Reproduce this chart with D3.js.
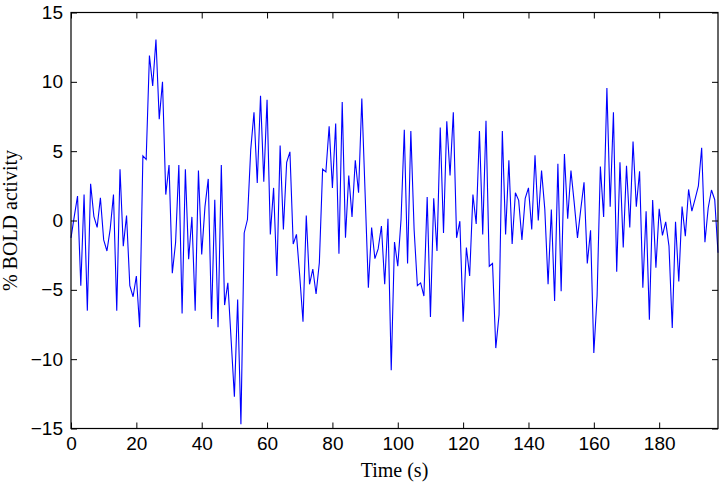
<html>
<head>
  <meta charset="utf-8">
  <script src="https://d3js.org/d3.v7.min.js"></script>
  <style>
    body { margin: 0; background: white; }
  </style>
</head>
<body>
<script>

// % BOLD signal, one sample per second (t = 0 .. 198 s)
let bold = [
  -1.25, 0.3, 1.76, -4.7, 1.87, -6.5, 2.65, 0.3, -0.5, 1.64,
  -1.4, -2.2, -0.6, 1.87, -6.5, 3.7, -1.85, 0.36, -4.7, -5.5,
  -4.0, -7.7, 4.66, 4.4, 11.9, 9.7, 13.05, 7.3, 10.0, 1.87,
  4.0, -3.8, -1.6, 4.0, -6.7, 3.7, -2.8, 0.26, -6.5, 3.6,
  -2.45, 1.0, 3.0, -7.1, 1.5, -7.7, 4.0, -6.1, -4.5, -8.6,
  -12.7, -5.7, -14.7, -0.9, 0.07, 5.1, 7.8, 2.7, 9.0, 2.8,
  8.7, -1.0, 2.35, -4.0, 5.4, -0.65, 4.2, 4.95, -1.7, -1.0,
  -4.0, -7.3, 0.36, -4.6, -3.5, -5.3, -3.05, 3.7, 3.5, 6.8,
  2.35, 7.0, -2.4, 8.55, -1.25, 3.25, 0.26, 4.35, 2.0, 8.8,
  2.0, -4.85, -0.5, -2.75, -2.05, -0.4, -4.6, 0.12, -10.8, -1.55,
  -3.3, 0.07, 6.55, -3.1, 6.45, -0.65, -4.7, -4.5, -5.45, 1.7,
  -6.95, 1.6, -2.2, 6.7, -0.9, 7.15, 3.25, 7.8, -1.25, -0.05,
  -7.3, -1.95, -4.0, 1.87, -0.25, 6.45, -1.0, 7.2, -3.3, -3.1,
  -9.2, -6.8, 6.45, -1.0, 4.35, -1.7, 2.0, 1.45, -1.4, 1.6,
  2.35, -0.65, 4.7, 0.0, 3.6, 0.8, -4.6, 0.8, -5.8, 4.1,
  -5.1, 4.8, 0.12, 3.6, 1.27, -1.25, 0.8, 2.75, -3.1, -0.7,
  -9.55, -5.45, 3.9, 0.26, 9.55, 1.0, 7.8, -3.7, 4.2, -1.95,
  3.95, -0.5, 5.7, 1.0, 3.55, -4.85, 0.67, -7.15, 1.47, -3.4,
  0.84, -1.08, -0.1, -1.85, -7.75, -0.1, -4.4, 1.0, -1.13, 2.24,
  0.67, 1.56, 2.5, 5.25, -1.56, 0.9, 2.2, 1.5, -2.33
];

let xTicks = [0, 20, 40, 60, 80, 100, 120, 140, 160, 180];
let yTicks = [-15, -10, -5, 0, 5, 10, 15];
let xDomain = [0, 198];
let yDomain = [-15, 15];

let canvasW = 724;
let canvasH = 490;
let plotL = 71, plotR = 718, plotT = 12.5, plotB = 428.5;

let svg = d3.select("body").append("svg")
  .attr("width", canvasW)
  .attr("height", canvasH)
  .style("background-color", "white");

let x = d3.scaleLinear().domain(xDomain).range([plotL, plotR]);
let y = d3.scaleLinear().domain(yDomain).range([plotB, plotT]);

let tickFont = "'Liberation Sans', Arial, sans-serif";
let labelFont = "'Liberation Serif', 'Times New Roman', serif";

// the signal
let line = d3.line()
  .x((d, i) => x(i))
  .y(d => y(d));

svg.append("path")
  .datum(bold)
  .attr("fill", "none")
  .attr("stroke", "#0000ff")
  .attr("stroke-width", 1.1)
  .attr("stroke-linejoin", "miter")
  .attr("d", line);

// axes, ticks pointing inward on all four sides
svg.append("g")
  .attr("transform", "translate(0," + plotB + ")")
  .call(d3.axisBottom(x).tickValues(xTicks).tickSizeInner(-6).tickSizeOuter(0).tickPadding(8));

svg.append("g")
  .attr("transform", "translate(" + plotL + ",0)")
  .call(d3.axisLeft(y).tickValues(yTicks).tickSizeInner(-6).tickSizeOuter(0).tickPadding(8));

svg.append("g")
  .attr("transform", "translate(0," + plotT + ")")
  .call(d3.axisTop(x).tickValues(xTicks).tickSizeInner(-6).tickSizeOuter(0).tickFormat(""));

svg.append("g")
  .attr("transform", "translate(" + plotR + ",0)")
  .call(d3.axisRight(y).tickValues(yTicks).tickSizeInner(-6).tickSizeOuter(0).tickFormat(""));

svg.selectAll(".domain").remove();
svg.selectAll(".tick line").attr("stroke", "black").attr("stroke-width", 1);
svg.selectAll(".tick text")
  .attr("font-family", tickFont)
  .attr("font-size", "19px")
  .attr("fill", "black");

// frame
svg.append("rect")
  .attr("x", plotL)
  .attr("y", plotT)
  .attr("width", plotR - plotL)
  .attr("height", plotB - plotT)
  .attr("fill", "none")
  .attr("stroke", "black")
  .attr("stroke-width", 1.2);

// axis titles
svg.append("text")
  .attr("x", (plotL + plotR) / 2)
  .attr("y", 477)
  .attr("text-anchor", "middle")
  .attr("font-family", labelFont)
  .attr("font-size", "20px")
  .attr("fill", "black")
  .text("Time (s)");

svg.append("text")
  .attr("transform", "translate(17," + ((plotT + plotB) / 2) + ") rotate(-90)")
  .attr("text-anchor", "middle")
  .attr("font-family", labelFont)
  .attr("font-size", "20px")
  .attr("fill", "black")
  .text("% BOLD activity");

</script>
</body>
</html>
